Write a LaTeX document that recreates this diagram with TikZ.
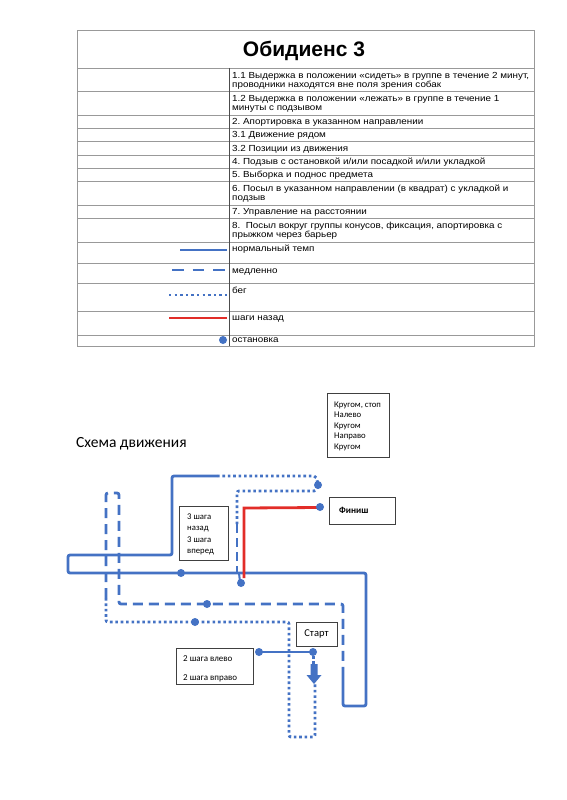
\documentclass[tikz,border=0pt]{standalone}
\usepackage{fontspec}
\setmainfont{Liberation Sans}
\newfontfamily\rowfont{Liberation Sans}[FakeStretch=1.12]
\newfontfamily\calfont{Carlito}
\definecolor{rblue}{RGB}{68,114,196}
\definecolor{rred}{RGB}{226,45,40}
\frenchspacing
\begin{document}
\begin{tikzpicture}[x=1pt,y=-1pt,
  tline/.style={draw=black!40, line width=0.6pt},
  rowtext/.style={anchor=base west, inner sep=0pt, font=\rowfont\fontsize{8.8}{10}\selectfont},
  route/.style={draw=rblue, line width=2.8pt, rounded corners=2pt},
  slow/.style={route, dash pattern=on 10pt off 6pt},
  run/.style={route, dash pattern=on 2.6pt off 2.8pt},
  back/.style={draw=rred, line width=2.8pt},
  stopdot/.style={circle, fill=rblue, minimum size=8pt, inner sep=0pt},
  lbl/.style={draw=black!75, line width=0.6pt, fill=white, inner sep=0pt},
  stext/.style={anchor=base west, inner sep=0pt, font=\calfont\fontsize{8.7}{10}\selectfont},
]
\useasboundingbox (0,0) rectangle (566,800);
\fill[white] (0,0) rectangle (566,800);

% ---------- table ----------
\draw[tline] (77,30) rectangle (534,346);
\foreach \y in {68,91,115,128,141.5,155,168,181.5,205,218,242,263,283,311,335}
  \draw[tline] (77,\y) -- (534,\y);
\draw[draw=black!70, line width=0.6pt] (229,68) -- (229,346);

\node[font=\bfseries\fontsize{21}{23}\selectfont, anchor=base, inner sep=0pt] (title) at (304,56.5) {Обидиенс 3};

\node[rowtext] (r1a) at (232,78) {1.1 Выдержка в положении «сидеть» в группе в течение 2 минут,};
\node[rowtext] (r1b) at (232,87.5) {проводники находятся вне поля зрения собак};
\node[rowtext] (r2a) at (232,101) {1.2 Выдержка в положении «лежать» в группе в течение 1};
\node[rowtext] (r2b) at (232,110.5) {минуты с подзывом};
\node[rowtext] (r3) at (232,124.5) {2. Апортировка в указанном направлении};
\node[rowtext] (r4) at (232,137.5) {3.1 Движение рядом};
\node[rowtext] (r5) at (232,151) {3.2 Позиции из движения};
\node[rowtext] (r6) at (232,164.5) {4. Подзыв с остановкой и/или посадкой и/или укладкой};
\node[rowtext] (r7) at (232,177.5) {5. Выборка и поднос предмета};
\node[rowtext] (r8a) at (232,191) {6. Посыл в указанном направлении (в квадрат) с укладкой и};
\node[rowtext] (r8b) at (232,200.5) {подзыв};
\node[rowtext] (r9) at (232,214.5) {7. Управление на расстоянии};
\node[rowtext] (r10a) at (232,228) {8.\ \ Посыл вокруг группы конусов, фиксация, апортировка с};
\node[rowtext] (r10b) at (232,237.5) {прыжком через барьер};

% legend
\node[rowtext] (l1) at (232,251.5) {нормальный темп};
\node[rowtext] (l2) at (232,273) {медленно};
\node[rowtext] (l3) at (232,293) {бег};
\node[rowtext] (l4) at (232,320.5) {шаги назад};
\node[rowtext] (l5) at (232,342.5) {остановка};

\coordinate (s1a) at (180,250); \coordinate (s1b) at (227,250);
\coordinate (s2a) at (172,270); \coordinate (s2b) at (227,270);
\coordinate (s3a) at (169,295); \coordinate (s3b) at (227,295);
\coordinate (s4a) at (169,318); \coordinate (s4b) at (227,318);
\draw[draw=rblue, line width=2.5pt] (s1a) -- (s1b);
\draw[draw=rblue, line width=2.5pt, dash pattern=on 11.5pt off 9pt] (s2a) -- (s2b);
\draw[draw=rblue, line width=2.5pt, dash pattern=on 2.4pt off 3.2pt] (s3a) -- (s3b);
\draw[draw=rred, line width=2.5pt] (s4a) -- (s4b);
\node[stopdot] (ldot) at (223,340) {};

% ---------- scheme ----------
\node[anchor=base west, inner sep=0pt, font=\calfont\fontsize{15.5}{17}\selectfont] (schema) at (76,447) {Схема движения};

% boxes
\node[lbl, minimum width=62pt, minimum height=64pt] (cmd) at (358,425) {};
\node[stext] (c1) at (334,407) {Кругом, стоп};
\node[stext] (c2) at (334,417.5) {Налево};
\node[stext] (c3) at (334,428) {Кругом};
\node[stext] (c4) at (334,438.5) {Направо};
\node[stext] (c5) at (334,449) {Кругом};

\node[lbl, minimum width=66pt, minimum height=27pt] (finish) at (362,510.5) {};
\node[anchor=base west, inner sep=0pt, font=\calfont\bfseries\fontsize{9.3}{10}\selectfont] (fintext) at (339,513.5) {Финиш};

\node[lbl, minimum width=49pt, minimum height=54pt] (steps) at (203.5,533) {};
\node[stext] (t1) at (187,519) {3 шага};
\node[stext] (t2) at (187,530.5) {назад};
\node[stext] (t3) at (187,542) {3 шага};
\node[stext] (t4) at (187,553.5) {вперед};

\node[lbl, minimum width=41pt, minimum height=24pt] (start) at (316.5,634) {};
\node[anchor=center, inner sep=0pt, font=\calfont\fontsize{10.5}{12}\selectfont] (starttext) at (316.5,634) {Старт};

\node[lbl, minimum width=77pt, minimum height=36pt] (side) at (214.5,666) {};
\node[stext, font=\calfont\fontsize{9}{10}\selectfont] (w1) at (183,661) {2 шага влево};
\node[stext, font=\calfont\fontsize{9}{10}\selectfont] (w2) at (183,680) {2 шага вправо};

% route coordinates
\coordinate (p1) at (343,668);
\coordinate (p2) at (343,706);
\coordinate (p3) at (366,706);
\coordinate (p4) at (366,573);
\coordinate (p5) at (68,573);
\coordinate (p6) at (68,555);
\coordinate (p7) at (172,555);
\coordinate (p8) at (172,476);
\coordinate (p9) at (217,476);
\coordinate (q1) at (316,476);
\coordinate (q2) at (316,491);
\coordinate (q3) at (237,491);
\coordinate (q4) at (237,524);
\coordinate (q5) at (237,574);

% solid (normal)
\draw[route] (p1) -- (p2) -- (p3) -- (p4) -- (p5) -- (p6) -- (p7) -- (p8) -- (p9);
% dotted (run) top
\draw[run] (p9) -- (q1) -- (318,484);
\draw[run] (318,486) -- (q2) -- (q3) -- (q4);
% dashed down to main line
\draw[route, rounded corners=0pt, dash pattern=on 9pt off 5pt] (q4) -- (q5);
\draw[route, line width=2pt, rounded corners=0pt] (239,573) -- (240,582);
% dashed (slow) left n-shape and horizontal
\draw[slow] (106,598) -- (106,493) -- (119,493) -- (119,604) -- (343,604) -- (p1);
% dotted (run) lower
\draw[run] (106,598) -- (106,622) -- (289,622) -- (289,737) -- (315,737) -- (315,683);
\draw[run, rounded corners=0pt] (313.5,656) -- (313.5,665);
% red (steps back)
\draw[back] (319,507.5) -- (244,508) -- (244,578);
% start side steps
\draw[draw=rblue, line width=2.4pt] (259,652) -- (313,652);
% arrow
\fill[rblue] (310.5,664) -- (317.5,664) -- (317.5,675) -- (321.5,675) -- (314,684) -- (306.5,675) -- (310.5,675) -- cycle;

% stop dots
\node[stopdot] (d1) at (181,573) {};
\node[stopdot] (d2) at (241,583) {};
\node[stopdot] (d3) at (207,604) {};
\node[stopdot] (d4) at (195,622) {};
\node[stopdot] (d5) at (318,485) {};
\node[stopdot] (d6) at (320,507) {};
\node[stopdot] (d7) at (259,652) {};
\node[stopdot] (d8) at (313,652) {};
\end{tikzpicture}
\end{document}
